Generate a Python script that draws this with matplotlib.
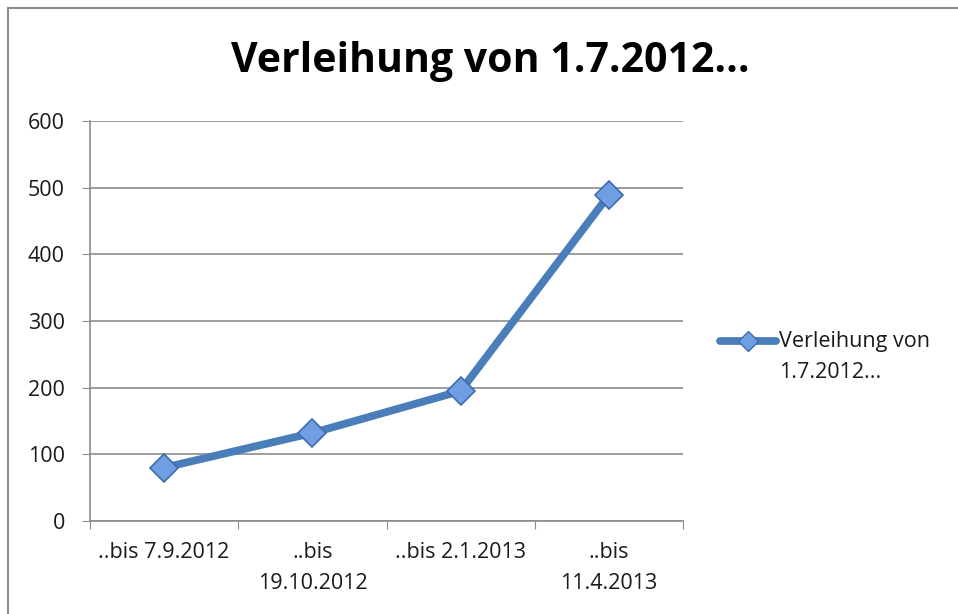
import matplotlib
matplotlib.use("Agg")
import matplotlib.pyplot as plt
from matplotlib.patches import Rectangle
from matplotlib.lines import Line2D

categories = ["..bis 7.9.2012", "..bis\n19.10.2012", "..bis 2.1.2013", "..bis\n11.4.2013"]
values = [80, 132, 195, 489]
yticks = [0, 100, 200, 300, 400, 500, 600]
series_name = "Verleihung von\n1.7.2012..."
title = "Verleihung von 1.7.2012..."

plt.rcParams['font.family'] = ['Open Sans', 'DejaVu Sans']

W, H = 958, 614
fig = plt.figure(figsize=(W / 100, H / 100), dpi=100)
fig.patches.append(Rectangle((8 / W, -0.1), 1.2, 1 - 8 / H + 0.1, transform=fig.transFigure,
                             fill=False, edgecolor='#8c8c8c', linewidth=1.5))

ax = fig.add_axes([90 / W, 1 - 521 / H, (683 - 90) / W, 400 / H])
x = [i + 0.5 for i in range(len(values))]
ax.plot(x, values, color='#4a7ebb', linewidth=5.6, solid_capstyle='round', zorder=3)
ax.plot(x, values, linestyle='none', marker='D', markersize=14, markerfacecolor='#6f9fe2',
        markeredgecolor='#3d6cad', markeredgewidth=1.2, zorder=4)

ax.set_xlim(0, len(values))
ax.set_ylim(0, 600)
ax.set_yticks(yticks)
ax.set_yticklabels([str(v) for v in yticks], fontsize=15.5, color='#1a1a1a')
ax.set_xticks(range(len(values) + 1))
ax.set_xticklabels([])
ax.set_xticks(x, minor=True)
ax.set_xticklabels(categories, minor=True, fontsize=15.5, color='#1a1a1a', linespacing=1.65)
ax.tick_params(axis='x', which='minor', length=0, pad=15)
ax.tick_params(axis='x', which='major', length=6, color='#8c8c8c', direction='out')
ax.tick_params(axis='y', length=6, color='#8c8c8c', direction='out', pad=12)
ax.grid(axis='y', color='#8c8c8c', linewidth=1.2)
ax.set_axisbelow(True)
for s in ['top', 'right']:
    ax.spines[s].set_visible(False)
for s in ['left', 'bottom']:
    ax.spines[s].set_color('#8c8c8c')
    ax.spines[s].set_linewidth(1.2)

fig.text(490 / W, 1 - 62 / H, title, ha='center', va='center', fontsize=29.5, fontweight='bold',
         color='#000000')

# legend (drawn manually to match the layout)
fig.add_artist(Line2D([720 / W, 776 / W], [1 - 341 / H, 1 - 341 / H], transform=fig.transFigure,
                      color='#4a7ebb', linewidth=5.6, solid_capstyle='round'))
fig.add_artist(Line2D([748 / W], [1 - 341 / H], transform=fig.transFigure, linestyle='none',
                      marker='D', markersize=10, markerfacecolor='#6f9fe2',
                      markeredgecolor='#3d6cad', markeredgewidth=1.0))
fig.text(779 / W, 1 - 331 / H, series_name, ha='left', va='top', fontsize=15.5,
         color='#1a1a1a', linespacing=1.6)

fig.savefig("out.png", dpi=100)
